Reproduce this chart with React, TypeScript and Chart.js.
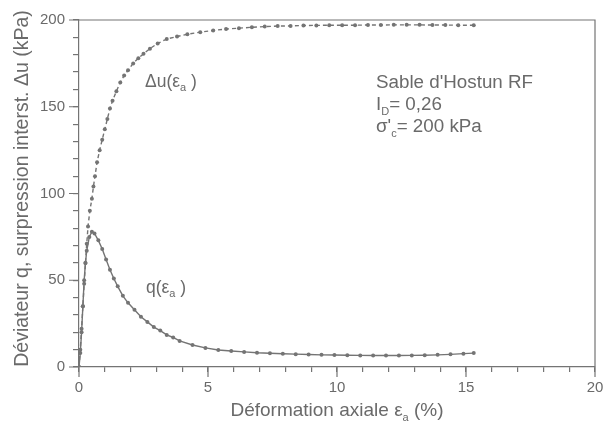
import React, { useEffect, useRef } from "react";
import { Chart, registerables } from "chart.js";

Chart.register(...registerables);

const duStrain = [0, 0.05, 0.1, 0.15, 0.2, 0.25, 0.3, 0.35, 0.42, 0.5, 0.56, 0.62, 0.7, 0.8, 0.9, 1.0, 1.1, 1.2, 1.3, 1.45, 1.6, 1.75, 1.9, 2.1, 2.3, 2.5, 2.75, 3.05, 3.4, 3.8, 4.2, 4.7, 5.2, 5.7, 6.2, 6.7, 7.2, 7.7, 8.2, 8.7, 9.2, 9.7, 10.2, 10.7, 11.2, 11.7, 12.2, 12.7, 13.2, 13.7, 14.2, 14.7, 15.3];
const duValues = [0, 10, 22, 35, 48, 60, 71, 81, 90, 97, 104, 110, 118, 125, 131, 137, 143, 149, 153.5, 159, 164, 168, 171, 175, 178, 180.5, 183.5, 186.5, 189, 190.5, 191.8, 193, 194, 194.8, 195.3, 195.8, 196.2, 196.5, 196.6, 196.8, 196.9, 197, 197, 197, 197.1, 197.1, 197.2, 197.2, 197.2, 197.1, 197.1, 197, 197];

const qStrain = [0, 0.05, 0.1, 0.15, 0.2, 0.25, 0.3, 0.4, 0.5, 0.6, 0.75, 0.9, 1.05, 1.2, 1.35, 1.5, 1.7, 1.9, 2.15, 2.4, 2.65, 2.9, 3.15, 3.4, 3.65, 3.9, 4.4, 4.9, 5.4, 5.9, 6.4, 6.9, 7.4, 7.9, 8.4, 8.9, 9.4, 9.9, 10.4, 10.9, 11.4, 11.9, 12.4, 12.9, 13.4, 13.9, 14.4, 14.9, 15.3];
const qValues = [0, 8, 20, 35, 50, 60, 67, 75, 78, 77, 73, 68, 62, 56, 51, 46.5, 41, 37, 33, 29, 26, 23, 21, 18.5, 17, 15, 12.7, 11, 9.8, 9.2, 8.7, 8.2, 7.9, 7.6, 7.4, 7.2, 7, 6.9, 6.8, 6.7, 6.6, 6.6, 6.6, 6.7, 6.8, 7, 7.3, 7.7, 8];

const xTickLabels = [0, 5, 10, 15, 20];
const yTickLabels = [0, 50, 100, 150, 200];

const TEXT = "#6a6a6a";
const LINE = "#747474";
const FONT = "Liberation Sans, Arial, sans-serif";

type Part = { t: string; sub?: boolean };

function drawRich(ctx: CanvasRenderingContext2D, parts: Part[], x: number, y: number, size: number) {
  let cx = x;
  for (const p of parts) {
    const s = p.sub ? Math.round(size * 0.6) : size;
    ctx.font = `${s}px ${FONT}`;
    const dy = p.sub ? size * 0.25 : 0;
    ctx.fillText(p.t, cx, y + dy);
    cx += ctx.measureText(p.t).width;
  }
  return cx - x;
}

function richWidth(ctx: CanvasRenderingContext2D, parts: Part[], size: number) {
  let w = 0;
  for (const p of parts) {
    const s = p.sub ? Math.round(size * 0.6) : size;
    ctx.font = `${s}px ${FONT}`;
    w += ctx.measureText(p.t).width;
  }
  return w;
}

const decor = {
  id: "decor",
  afterDraw(chart: any) {
    const ctx: CanvasRenderingContext2D = chart.ctx;
    const a = chart.chartArea;
    const xs = chart.scales.x;
    const ys = chart.scales.y;
    ctx.save();
    ctx.strokeStyle = LINE;
    ctx.lineWidth = 1.2;
    ctx.beginPath();
    ctx.moveTo(a.left, a.top);
    ctx.lineTo(a.right, a.top);
    ctx.lineTo(a.right, a.bottom);
    ctx.stroke();
    // longer major ticks
    ctx.beginPath();
    for (const v of xTickLabels) {
      const px = xs.getPixelForValue(v);
      ctx.moveTo(px, a.bottom);
      ctx.lineTo(px, a.bottom + 10);
    }
    for (const v of yTickLabels) {
      const py = ys.getPixelForValue(v);
      ctx.moveTo(a.left, py);
      ctx.lineTo(a.left - 10, py);
    }
    ctx.stroke();

    ctx.fillStyle = TEXT;
    ctx.textBaseline = "alphabetic";
    ctx.textAlign = "left";
    // annotations
    drawRich(ctx, [{ t: "Δu(ε" }, { t: "a", sub: true }, { t: " )" }], 145, 87, 17.5);
    drawRich(ctx, [{ t: "q(ε" }, { t: "a", sub: true }, { t: " )" }], 146, 293, 17.5);
    drawRich(ctx, [{ t: "Sable d'Hostun RF" }], 376, 88, 18.8);
    drawRich(ctx, [{ t: "I" }, { t: "D", sub: true }, { t: "= 0,26" }], 376, 110, 18.8);
    drawRich(ctx, [{ t: "σ'" }, { t: "c", sub: true }, { t: "= 200 kPa" }], 376, 132, 18.8);

    // x title
    const xt: Part[] = [{ t: "Déformation axiale ε" }, { t: "a", sub: true }, { t: " (%)" }];
    const w = richWidth(ctx, xt, 19);
    drawRich(ctx, xt, (a.left + a.right) / 2 - w / 2, 416, 19);

    // y title
    const yt: Part[] = [{ t: "Déviateur q, surpression interst. Δu (kPa)" }];
    const yw = richWidth(ctx, yt, 19.5);
    ctx.translate(28, (a.top + a.bottom) / 2 - 5);
    ctx.rotate(-Math.PI / 2);
    drawRich(ctx, yt, -yw / 2, 0, 19.5);
    ctx.restore();
  },
};

export default function App() {
  const ref = useRef<HTMLCanvasElement>(null);
  useEffect(() => {
    if (!ref.current) return;
    const chart = new Chart(ref.current, {
      type: "scatter",
      data: {
        datasets: [
          {
            label: "Δu",
            data: duStrain.map((x, i) => ({ x, y: duValues[i] })),
            showLine: true,
            borderColor: LINE,
            backgroundColor: LINE,
            borderWidth: 1.4,
            borderDash: [4, 3],
            pointRadius: 2,
            pointBorderWidth: 0,
          },
          {
            label: "q",
            data: qStrain.map((x, i) => ({ x, y: qValues[i] })),
            showLine: true,
            borderColor: LINE,
            backgroundColor: LINE,
            borderWidth: 1.4,
            pointRadius: 2,
            pointBorderWidth: 0,
          },
        ],
      },
      options: {
        animation: false,
        responsive: false,
        events: [],
        layout: { padding: { left: 0, right: 9, top: 20, bottom: 0 } },
        plugins: { legend: { display: false }, tooltip: { enabled: false } },
        scales: {
          x: {
            type: "linear",
            min: 0,
            max: 20,
            afterFit: (s: any) => { s.height = 57; s.paddingRight = 0; s.paddingLeft = 0; },
            border: { display: true, color: LINE, width: 1.2 },
            grid: { display: true, drawOnChartArea: false, drawTicks: true, tickLength: 5, color: LINE, lineWidth: 1.2 },
            ticks: {
              stepSize: 1,
              autoSkip: false,
              maxRotation: 0,
              padding: 7,
              color: TEXT,
              font: { family: FONT, size: 15 },
              callback: (v: any) => (xTickLabels.includes(Number(v)) ? String(v) : ""),
            },
          },
          y: {
            type: "linear",
            min: 0,
            max: 200,
            afterFit: (s: any) => { s.width = 79; s.paddingTop = 0; s.paddingBottom = 0; },
            border: { display: true, color: LINE, width: 1.2 },
            grid: { display: true, drawOnChartArea: false, drawTicks: true, tickLength: 6, color: LINE, lineWidth: 1.2 },
            ticks: {
              stepSize: 10,
              autoSkip: false,
              padding: 8,
              color: TEXT,
              font: { family: FONT, size: 15 },
              callback: (v: any) => (yTickLabels.includes(Number(v)) ? String(v) : ""),
            },
          },
        },
      },
      plugins: [decor],
    });
    return () => chart.destroy();
  }, []);
  return (
    <div style={{ position: "absolute", left: 0, top: 0, width: 604, height: 424, background: "#fff" }}>
      <canvas ref={ref} width={604} height={424} />
    </div>
  );
}
